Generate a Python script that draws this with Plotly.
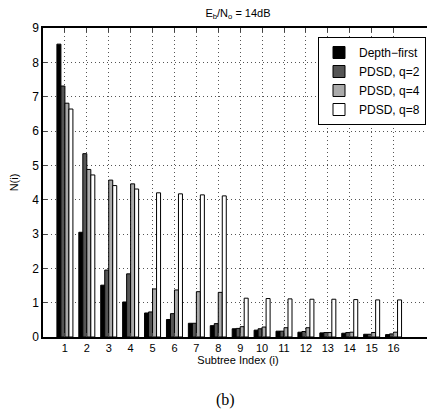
import plotly.graph_objects as go

categories = list(range(1, 17))
series_names = ["Depth\u2212first", "PDSD, q=2", "PDSD, q=4", "PDSD, q=8"]
depth_first = [8.53, 3.05, 1.51, 1.02, 0.70, 0.51, 0.40, 0.33, 0.24, 0.20, 0.17, 0.14, 0.12, 0.11, 0.08, 0.07]
pdsd_q2 = [7.31, 5.34, 1.95, 1.84, 0.73, 0.68, 0.40, 0.39, 0.25, 0.24, 0.17, 0.16, 0.13, 0.13, 0.08, 0.09]
pdsd_q4 = [6.81, 4.88, 4.57, 4.46, 1.40, 1.37, 1.32, 1.30, 0.30, 0.29, 0.27, 0.27, 0.13, 0.14, 0.13, 0.14]
pdsd_q8 = [6.64, 4.72, 4.41, 4.31, 4.20, 4.17, 4.14, 4.11, 1.13, 1.12, 1.11, 1.10, 1.10, 1.09, 1.08, 1.08]
colors = ["#000000", "#555555", "#aaaaaa", "#ffffff"]
y_ticks = list(range(0, 10))

# page body has an 8px default margin; figure is sized to fit the 435x414 window
OFF = 8
W, H = 435 - OFF, 414 - OFF
# plot area in window pixels: x 43..433, y 28..337
L, T = 43 - OFF, 28 - OFF
R = W - (433 - OFF)
B = H - (337 - OFF)
PW, PH = W - L - R, H - T - B

fig = go.Figure()
for name, vals, c in zip(series_names, [depth_first, pdsd_q2, pdsd_q4, pdsd_q8], colors):
    fig.add_trace(go.Bar(x=categories, y=vals, name=name, marker=dict(color=c, line=dict(color="#000000", width=1))))

font = "Liberation Sans, Arial, sans-serif"
fig.update_layout(
    width=W, height=H,
    margin=dict(l=L, r=R, t=T, b=B, autoexpand=False),
    paper_bgcolor="white", plot_bgcolor="white",
    barmode="group", bargap=0.27, bargroupgap=0,
    font=dict(family=font, size=11, color="black"),
    title=dict(text="E<sub>b</sub>/N<sub>o</sub> = 14dB", x=(L + PW / 2) / W, xanchor="center",
               y=1.0, yanchor="top", pad=dict(t=1, b=0), font=dict(size=11)),
    legend=dict(x=(318 - 43) / PW, xanchor="left", y=1 - 9 / PH, yanchor="top",
                bordercolor="black", borderwidth=1, bgcolor="white",
                font=dict(size=12), itemwidth=30, tracegroupgap=0),
    showlegend=True,
)
fig.update_xaxes(
    range=[0, 17.8], tickvals=categories, ticktext=[str(c) for c in categories],
    ticks="inside", ticklen=4, mirror="ticks", showline=True, linecolor="black", linewidth=1.5,
    showgrid=True, gridcolor="#555555", griddash="1px,3px", gridwidth=1, zeroline=False,
    automargin=False,
    title=dict(text="Subtree Index (i)", standoff=2, font=dict(size=11)), tickfont=dict(size=11),
)
fig.update_yaxes(
    range=[0, 9], tickvals=y_ticks,
    ticks="inside", ticklen=4, mirror="ticks", showline=True, linecolor="black", linewidth=1.5,
    showgrid=True, gridcolor="#555555", griddash="1px,3px", gridwidth=1, zeroline=False,
    automargin=False,
    title=dict(text="N(i)", standoff=14, font=dict(size=11)), tickfont=dict(size=12),
)
fig.add_annotation(text="(b)", xref="paper", yref="paper", x=(225 - 43) / PW, y=-(400 - 337) / PH,
                   xanchor="center", yanchor="middle", showarrow=False,
                   font=dict(family="Liberation Serif, Times New Roman, serif", size=16))
fig.write_html("out.html")
